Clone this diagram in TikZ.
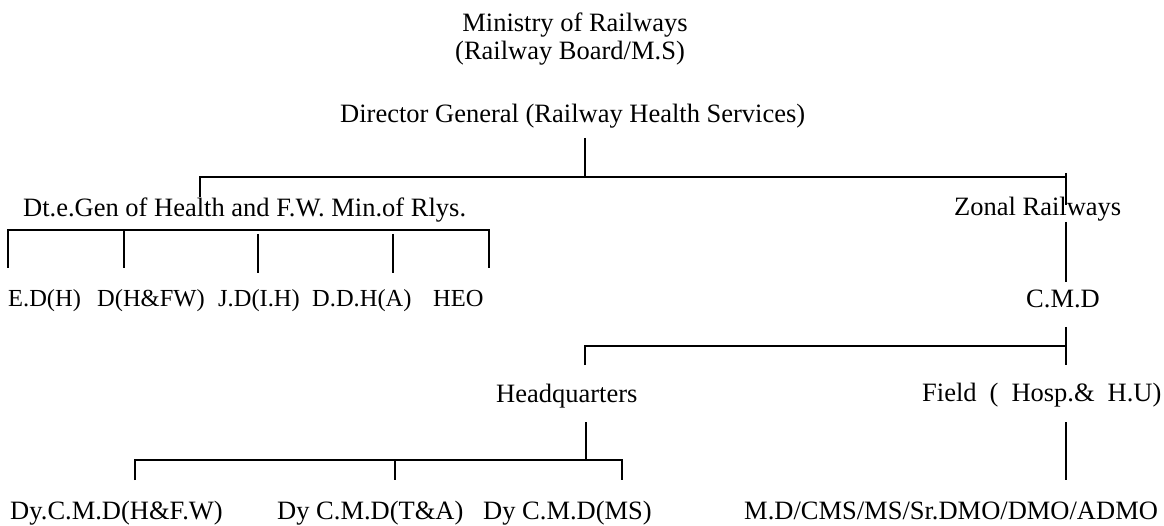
\documentclass[tikz,border=0pt]{standalone}
\usepackage{fontspec}
\setmainfont{Liberation Serif}
\begin{document}
\begin{tikzpicture}[x=1pt,y=-1pt,
  lbl/.style={inner sep=0pt, font=\fontsize{26.5}{30}\selectfont, anchor=base west},
  sm/.style={lbl, font=\fontsize{24.5}{28}\selectfont},
  ln/.style={line width=1.4pt, black}]
\useasboundingbox (0,0) rectangle (1164,526);

% ---- text nodes ----
\node[lbl, anchor=base] (min) at (575,32) {Ministry of Railways};
\node[lbl, anchor=base] (rb) at (570,60) {(Railway Board/M.S)};
\node[lbl] (dg) at (340,123) {Director General (Railway Health Services)};
\node[lbl] (dte) at (23,217) {Dt.e.Gen of Health and F.W. Min.of Rlys.};
\node[lbl] (zr) at (954,216) {Zonal Railways};
\node[sm] (ed) at (8,307) {E.D(H)};
\node[sm] (dhfw) at (97,307) {D(H\&FW)};
\node[sm] (jd) at (218,307) {J.D(I.H)};
\node[sm] (ddh) at (312,307) {D.D.H(A)};
\node[sm] (heo) at (433,307) {HEO};
\node[lbl] (cmd) at (1026,308) {C.M.D};
\node[lbl] (hq) at (496,402) {Headquarters};
\node[lbl] (fld) at (922,401) {Field\hspace{13pt}(\hspace{13pt}Hosp.\&\hspace{13pt}H.U)};
\node[lbl] (d1) at (10,519) {Dy.C.M.D(H\&F.W)};
\node[lbl] (d2) at (277,519) {Dy C.M.D(T\&A)};
\node[lbl] (d3) at (483,519) {Dy C.M.D(MS)};
\node[lbl] (md) at (744,519) {M.D/CMS/MS/Sr.DMO/DMO/ADMO};

% ---- junction coordinates ----
\coordinate (dgT) at (585,138);
\coordinate (dgJ) at (585,177);
\coordinate (dteT) at (200,197);
\coordinate (dteJ) at (200,177);
\coordinate (zrJ) at (1066,177);
\coordinate (zrA) at (1066,173);
\coordinate (zrB) at (1066,205);
\coordinate (zrC) at (1066,222);
\coordinate (cmdT) at (1066,282);
% Dte sub bracket
\coordinate (s1b) at (8,268);   \coordinate (s1j) at (8,230);
\coordinate (s5j) at (489,230); \coordinate (s5b) at (489,268);
\coordinate (s2j) at (124,230); \coordinate (s2b) at (124,268);
\coordinate (s3j) at (258,234); \coordinate (s3b) at (258,273);
\coordinate (s4j) at (393,234); \coordinate (s4b) at (393,273);
% CMD bracket
\coordinate (cmdB) at (1066,327);
\coordinate (cmdJ) at (1066,346);
\coordinate (fldT) at (1066,365);
\coordinate (hqJ) at (585,346);
\coordinate (hqT) at (585,365);
% HQ bracket
\coordinate (hqB) at (586,422);
\coordinate (hqK) at (586,460);
\coordinate (b1j) at (135,460); \coordinate (b1b) at (135,480);
\coordinate (b2j) at (395,460); \coordinate (b2b) at (395,480);
\coordinate (b3j) at (622,460); \coordinate (b3b) at (622,480);
% Field
\coordinate (fldB) at (1066,422);
\coordinate (mdT) at (1066,480);

% ---- connectors ----
\draw[ln] (dgT) -- (dgJ);
\draw[ln] (dteT) -- (dteJ) -- (zrJ);
\draw[ln] (zrA) -- (zrB);
\draw[ln] (zrC) -- (cmdT);
\draw[ln] (s1b) -- (s1j) -- (s5j) -- (s5b);
\draw[ln] (s2j) -- (s2b);
\draw[ln] (s3j) -- (s3b);
\draw[ln] (s4j) -- (s4b);
\draw[ln] (cmdB) -- (fldT);
\draw[ln] (hqT) -- (hqJ) -- (cmdJ);
\draw[ln] (hqB) -- (hqK);
\draw[ln] (b1b) -- (b1j) -- (b3j) -- (b3b);
\draw[ln] (b2j) -- (b2b);
\draw[ln] (fldB) -- (mdT);
\end{tikzpicture}
\end{document}
